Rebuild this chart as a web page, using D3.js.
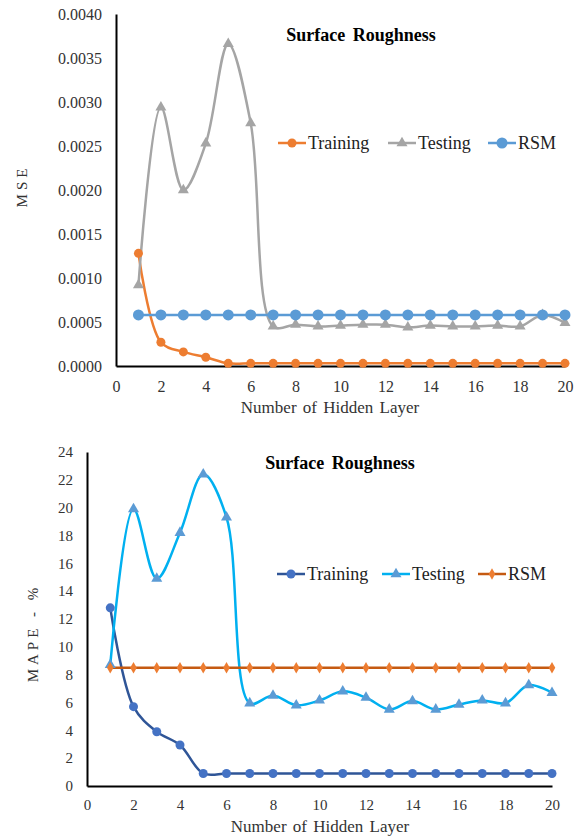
<!DOCTYPE html>
<html>
<head>
<meta charset="utf-8">
<script src="https://cdn.jsdelivr.net/npm/d3@7"></script>
<style>
  body { margin: 0; background: #fff; }
  svg text { font-family: "Liberation Serif", "Times New Roman", serif !important; }
</style>
</head>
<body>
<div id="chart"></div>
<script>
// hidden layers 1..20
var layers = d3.range(1, 21)

// MSE chart
var mseTraining = [0.00128, 0.00027, 0.00016, 0.00010, 0.00003, 0.00003, 0.00003, 0.00003, 0.00003, 0.00003,
                   0.00003, 0.00003, 0.00003, 0.00003, 0.00003, 0.00003, 0.00003, 0.00003, 0.00003, 0.00003]
var mseTesting = [0.00092, 0.00294, 0.00200, 0.00253, 0.00366, 0.00276, 0.00045, 0.00047, 0.00045, 0.00046,
                  0.00047, 0.00047, 0.00044, 0.00046, 0.00045, 0.00045, 0.00046, 0.00045, 0.00058, 0.00049]
var mseRSM = layers.map(function () { return 0.00058 })
var mseTicks = [0, 0.0005, 0.0010, 0.0015, 0.0020, 0.0025, 0.0030, 0.0035, 0.0040]

// MAPE chart
var mapeTraining = [12.8, 5.7, 3.9, 2.95, 0.9, 0.9, 0.9, 0.9, 0.9, 0.9,
                    0.9, 0.9, 0.9, 0.9, 0.9, 0.9, 0.9, 0.9, 0.9, 0.9]
var mapeTesting = [8.7, 19.9, 14.9, 18.2, 22.4, 19.3, 5.95, 6.5, 5.8, 6.15,
                   6.8, 6.35, 5.5, 6.1, 5.5, 5.85, 6.15, 5.95, 7.25, 6.7]
var mapeRSM = layers.map(function () { return 8.5 })
var mapeTicks = [0, 2, 4, 6, 8, 10, 12, 14, 16, 18, 20, 22, 24]

var xTicks = [0, 2, 4, 6, 8, 10, 12, 14, 16, 18, 20]
var seriesNames = ['Training', 'Testing', 'RSM']

var serif = '"Liberation Serif", "Times New Roman", serif'

var svg = d3.select('#chart').append('svg')
    .attr('width', 579)
    .attr('height', 836)
    .attr('font-family', serif)

function marker(g, shape, size, fill) {
  if (shape === 'circle') {
    g.append('circle').attr('r', size).attr('fill', fill)
  } else {
    var sym = shape === 'triangle' ? d3.symbolTriangle : d3.symbolDiamond
    g.append('path')
      .attr('d', d3.symbol().type(sym).size(size * size * 2.6)())
      .attr('fill', fill)
  }
}

function drawChart(opt) {
  var x = d3.scaleLinear().domain([0, 20]).range([opt.left, opt.right])
  var y = d3.scaleLinear().domain([0, opt.yMax]).range([opt.bottom, opt.top])

  var g = svg.append('g')

  var xAxis = d3.axisBottom(x)
      .tickValues(xTicks)
      .tickSize(0)
      .tickPadding(opt.xPad)
  var yAxis = d3.axisLeft(y)
      .tickValues(opt.yTicks)
      .tickSize(0)
      .tickPadding(14)
      .tickFormat(opt.yFormat)

  var gx = g.append('g')
      .attr('transform', 'translate(0,' + opt.bottom + ')')
      .call(xAxis)
  var gy = g.append('g')
      .attr('transform', 'translate(' + opt.left + ',0)')
      .call(yAxis)

  ;[gx, gy].forEach(function (a) {
    a.attr('font-family', serif).attr('font-size', opt.tickSize)
    a.select('.domain').attr('stroke', '#000').attr('stroke-width', 2)
    a.selectAll('text').attr('fill', '#333')
  })

  // series lines
  opt.series.forEach(function (s) {
    var line = d3.line()
        .x(function (d, i) { return x(layers[i]) })
        .y(function (d) { return y(d) })
        .curve(s.smooth ? d3.curveCatmullRom.alpha(0.5) : d3.curveLinear)
    g.append('path')
      .datum(s.values)
      .attr('d', line)
      .attr('fill', 'none')
      .attr('stroke', s.line)
      .attr('stroke-width', 2.5)
  })

  // markers drawn after all lines
  opt.series.forEach(function (s) {
    g.append('g').selectAll('g')
      .data(s.values)
      .enter().append('g')
        .attr('transform', function (d, i) { return 'translate(' + x(layers[i]) + ',' + y(d) + ')' })
        .each(function () { marker(d3.select(this), s.shape, s.size, s.fill) })
  })

  // title
  g.append('text')
    .attr('x', opt.titleX)
    .attr('y', opt.titleY)
    .attr('text-anchor', 'middle')
    .attr('font-size', 18)
    .attr('font-weight', 'bold')
    .attr('word-spacing', 3)
    .text('Surface Roughness')

  // y label
  g.append('text')
    .attr('transform', 'translate(' + opt.yLabelX + ',' + opt.yLabelY + ') rotate(-90)')
    .attr('text-anchor', 'middle')
    .attr('fill', '#333')
    .attr('font-size', 15)
    .attr('letter-spacing', 4)
    .text(opt.yLabel)

  // x label
  g.append('text')
    .attr('x', opt.xLabelX)
    .attr('y', opt.xLabelY)
    .attr('text-anchor', 'middle')
    .attr('fill', '#333')
    .attr('font-size', 17)
    .attr('word-spacing', 2)
    .text('Number of Hidden Layer')

  // legend
  var lg = g.append('g').attr('transform', 'translate(0,' + opt.legendY + ')')
  opt.series.forEach(function (s, i) {
    var lx = opt.legendX[i]
    lg.append('line')
      .attr('x1', lx).attr('x2', lx + 28)
      .attr('stroke', s.line).attr('stroke-width', 2.5)
    var m = lg.append('g').attr('transform', 'translate(' + (lx + 14) + ',0)')
    marker(m, s.shape, s.size, s.fill)
    lg.append('text')
      .attr('x', lx + 30)
      .attr('dy', '0.35em')
      .attr('fill', '#222')
      .attr('font-size', 18)
      .text(seriesNames[i])
  })
}

drawChart({
  left: 116, right: 565, top: 14, bottom: 366,
  yMax: 0.004, yTicks: mseTicks, yFormat: d3.format('.4f'),
  xPad: 15, tickSize: 16,
  titleX: 361, titleY: 41,
  yLabel: 'MSE', yLabelX: 27, yLabelY: 186,
  xLabelX: 330, xLabelY: 413,
  legendY: 143, legendX: [278, 388, 488],
  series: [
    { values: mseTraining, line: '#ED7D31', fill: '#ED7D31', shape: 'circle', size: 4.5, smooth: true },
    { values: mseTesting, line: '#A5A5A5', fill: '#A5A5A5', shape: 'triangle', size: 4.5, smooth: true },
    { values: mseRSM, line: '#5B9BD5', fill: '#5B9BD5', shape: 'circle', size: 5.5, smooth: false }
  ]
})

drawChart({
  left: 87, right: 552, top: 452, bottom: 786,
  yMax: 24, yTicks: mapeTicks, yFormat: d3.format('d'),
  xPad: 13, tickSize: 15,
  titleX: 340, titleY: 469,
  yLabel: 'MAPE - %', yLabelX: 38, yLabelY: 633,
  xLabelX: 320, xLabelY: 832,
  legendY: 574, legendX: [277, 382, 478],
  series: [
    { values: mapeTraining, line: '#2F5597', fill: '#4472C4', shape: 'circle', size: 4.5, smooth: true },
    { values: mapeTesting, line: '#00B0F0', fill: '#5B9BD5', shape: 'triangle', size: 4.5, smooth: true },
    { values: mapeRSM, line: '#C55A11', fill: '#ED7D31', shape: 'diamond', size: 3.8, smooth: false }
  ]
})
</script>
</body>
</html>
